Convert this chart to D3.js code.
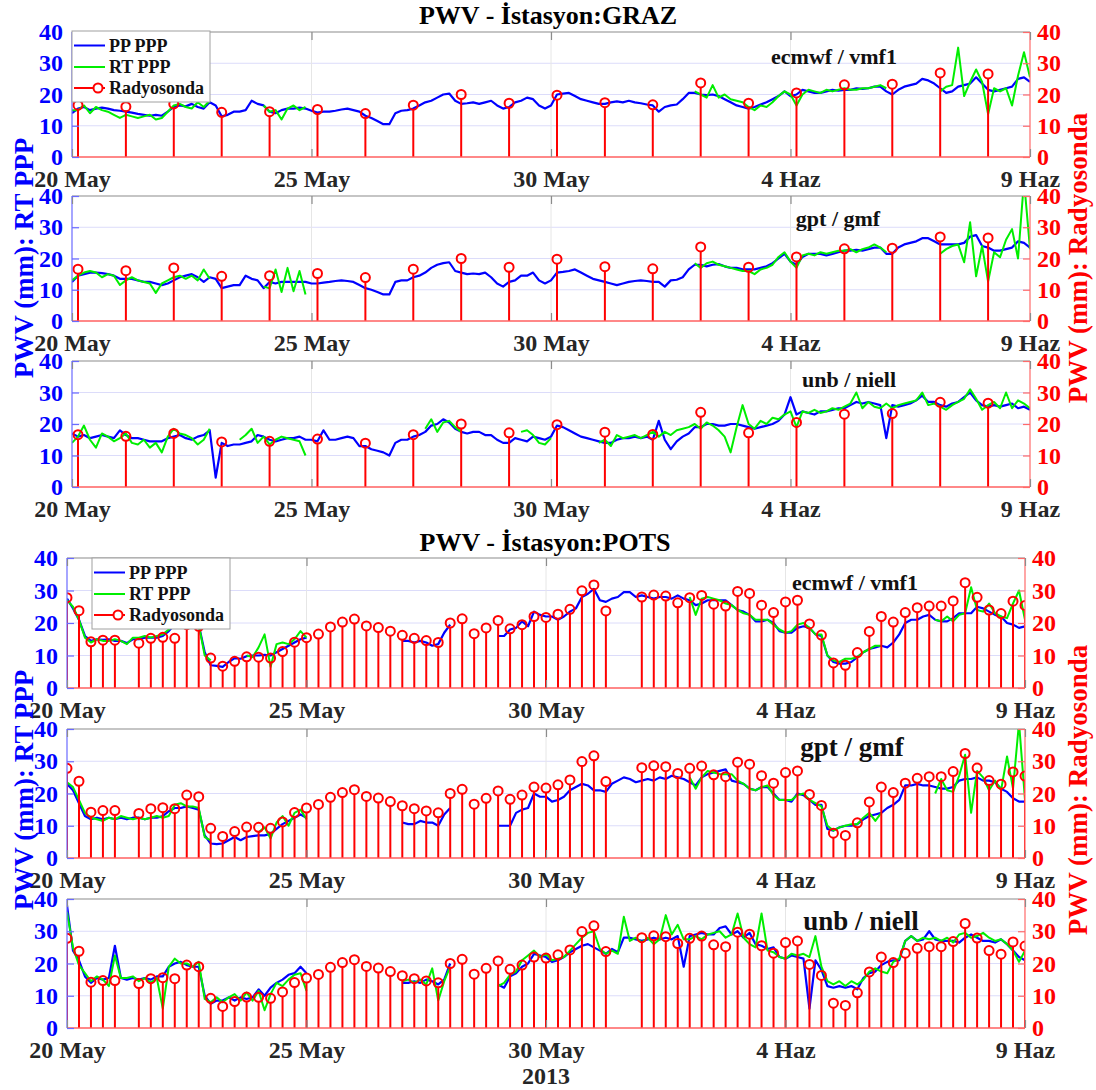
<!DOCTYPE html>
<html>
<head>
<meta charset="utf-8">
<script src="https://cdn.jsdelivr.net/npm/d3@7"></script>
<style>
  body { margin: 0; background: #fff; }
  svg { display: block; }
  svg text { font-family: "Liberation Serif", "Times New Roman", serif !important; font-weight: bold; }
</style>
</head>
<body>
<svg id="chart" width="1096" height="1090"></svg>
<script>
// ---- time axis ----
const seriesStart = Date.UTC(2013, 4, 20);   // first sample, 20 May 2013 00 UTC
const seriesEnd = Date.UTC(2013, 5, 9);      // 9 June 2013 00 UTC
const stepHours = 3;                         // GNSS PWV sampling step
const tickDates = [Date.UTC(2013, 4, 20), Date.UTC(2013, 4, 25), Date.UTC(2013, 4, 30), Date.UTC(2013, 5, 4), Date.UTC(2013, 5, 9)];
const tickLabels = ["20 May", "25 May", "30 May", "4 Haz", "9 Haz"];
const yTickValues = [0, 10, 20, 30, 40];
const legendLabels = ["PP PPP", "RT PPP", "Radyosonda"];
const yearLabel = "2013";
const _ = null;

// ---- GRAZ : radiosonde, one launch per day at 03 UTC ----
const grazSondeHour = 3;
const grazSonde = [16.6, 16.1, 17.0, 14.3, 14.5, 15.2, 13.9, 16.6, 20.0, 17.2,
                   19.8, 17.4, 16.7, 23.7, 17.2, 20.5, 23.1, 23.3, 26.9, 26.6];

// GRAZ ecmwf / vmf1
const grazVmfPP = [
  14, 15.5, 16, 15, 15.5, 15.8, 15.5, 15,
  14.8, 14.5, 14.2, 13.8, 13.5, 13.2, 13.5, 13.2,
  14.5, 16, 16.5, 16.2, 17, 16, 15.5, 17.5,
  16.5, 13, 13.5, 14.5, 14.5, 15, 18, 17,
  16.5, 14.5, 14, 15, 15.5, 15.5, 15.8, 15.5,
  14.8, 14.2, 14.5, 14.5, 14.8, 15.2, 15.5, 15,
  14.5, 13.2, 12.5, 11.5, 10.5, 10.5, 14, 14.8,
  15, 15.5, 16.5, 17.5, 18, 19, 20, 20.3,
  18, 17, 17.2, 17.5, 17, 17.5, 18, 16.5,
  15.5, 16, 17.5, 18, 19, 18.5, 16.5, 15.5,
  16.5, 20, 20.3, 20.5, 19.5, 18.5, 18, 17.5,
  17, 17, 17.5, 17.8, 17.5, 18, 17.5, 17.2,
  16.8, 16.5, 14.5, 16, 16.5, 16.8, 18.5, 20.5,
  20.5, 20, 19.8, 20, 19.5, 18.5, 17.5, 16.5,
  16, 15.5, 16, 16.8, 17.5, 18.5, 19.5, 21,
  19.5, 20, 21.5, 21, 20.5, 20.5, 21, 21.5,
  21.2, 21.5, 21.5, 22, 21.8, 22, 22.5, 22.5,
  21, 20, 21.5, 22.5, 23, 23.5, 25, 24.5,
  23.5, 22, 20.5, 21, 22.5, 23, 23.5, 25.5,
  23.5, 21.5, 21, 21.5, 22, 22.5, 25, 25.5,
  24];
const grazVmfRT = [
  15, 15, 16.5, 14, 16, 15, 14.5, 13.5,
  12.5, 13.5, 13, 12.5, 13, 13.5, 12, 12.5,
  14.5, 16.5, 17, 16, 15.5, 17.5, 16, 18,
  _, _, _, _, _, _, _, _,
  16.5, 14.5, 15, 12, 15.5, 16.5, 15, 16,
  _, _, _, _, _, _, _, _,
  _, _, _, _, _, _, _, _,
  _, _, _, _, _, _, _, _,
  _, _, _, _, _, _, _, _,
  _, _, _, _, _, _, _, _,
  _, _, _, _, _, _, _, _,
  _, _, _, _, _, _, _, _,
  _, _, _, _, _, _, _, _,
  21, 20, 19, 23, 19, 20, 18.5, 18,
  17.5, 16, 15, 16.5, 16, 17.5, 19.5, 21,
  20, 16.5, 20, 21.5, 21, 20.5, 21.5, 21,
  21.5, 22, 21.5, 21.5, 22, 22, 22.5, 23,
  22, _, _, _, _, _, _, _,
  _, 21, 22.5, 23, 35, 19.5, 24, 28,
  24, 13.7, 22, 21, 22, 16.5, 26, 33.5,
  25.5];

// GRAZ gpt / gmf
const grazGmfPP = [
  12.5, 14.5, 15, 15.5, 15.5, 15.3, 15, 14.5,
  13.5, 13.5, 13.5, 13, 12.5, 12.5, 12, 11.5,
  12, 13, 14, 14.5, 15, 14, 12.5, 14,
  13.5, 10.5, 11, 11.5, 11.5, 14.5, 13.5, 13,
  10.5, 12.5, 12, 12.5, 12.5, 12.5, 12.5, 12.5,
  12, 12, 12.3, 12.5, 12.8, 13, 12.8, 12.5,
  11.5, 10.5, 10, 9.3, 8.5, 8.5, 12.5, 13,
  13, 14, 14.5, 15.5, 17, 18, 18.5, 18.8,
  16, 15.5, 15, 15.2, 15, 15.5, 14, 12,
  11, 12.5, 13, 14.5, 14.5, 15.5, 13, 12,
  13, 15.5, 15.7, 16, 16.5, 15.5, 14.5, 13.5,
  13, 12.5, 12, 11.5, 12, 12.5, 12.8, 13,
  12.8, 12.5, 12.5, 11, 13, 13.2, 14, 16.5,
  18, 18, 17.5, 18, 18.2, 17.5, 17, 17,
  16.5, 16.5, 16.5, 17, 17.5, 18.5, 20, 21.5,
  19, 18, 20.5, 21.5, 21.5, 21.5, 21, 21.5,
  22, 22.5, 22.5, 22.8, 22.5, 23, 23.5, 23.5,
  21.5, 21.5, 23.5, 24.5, 25, 25.5, 26.5, 26.5,
  25.5, 24.5, 24.5, 24.5, 24.5, 25, 27, 27.5,
  24, 23.5, 22.5, 22.5, 23, 23.5, 25.5, 25,
  23.5];
const grazGmfRT = [
  13, 14.5, 15.5, 16, 15.5, 14, 15, 14.5,
  11.5, 13, 14, 13, 12.5, 12, 9, 12,
  13, 14, 14.5, 13.5, 14.5, 13, 16.5, 13.5,
  _, _, _, _, _, _, _, _,
  11, 10.5, 16.5, 9.3, 17, 9.5, 16, 8.5,
  _, _, _, _, _, _, _, _,
  _, _, _, _, _, _, _, _,
  _, _, _, _, _, _, _, _,
  _, _, _, _, _, _, _, _,
  _, _, _, _, _, _, _, _,
  _, _, _, _, _, _, _, _,
  _, _, _, _, _, _, _, _,
  _, _, _, _, _, _, _, _,
  18.5, 17, 18.5, 19, 18, 17.5, 17, 16.5,
  16, 16, 15, 16.5, 17, 18, 20.5, 22,
  19, 17, 21, 21.5, 21, 22, 21.5, 22,
  22.5, 22.5, 23, 22, 23, 23.5, 24.5, 23.5,
  22, _, _, _, _, _, _, _,
  _, 21.5, 23, 24, 24.5, 18.8, 31.6, 14.3,
  24, 12.6, 22, 20.4, 26, 29.4, 20, 45,
  23];

// GRAZ unb / niell
const grazNiellPP = [
  17, 16, 16.5, 15.5, 16, 16.5, 16, 15.5,
  18, 16.5, 15.5, 15.5, 15, 14.5, 14.5, 14.5,
  15.5, 16, 16.5, 15.5, 15, 16, 16.5, 18,
  3, 14, 13, 13.5, 13.5, 14, 14.5, 16.5,
  16, 15, 14.5, 15, 15.5, 15.5, 16, 15,
  15, 14.5, 18, 15, 15, 15.5, 16, 15.5,
  13, 13, 12, 11.5, 11, 10, 14, 15,
  15, 16, 16.5, 17.5, 19.5, 20, 21.5, 20.5,
  18.5, 17.5, 17, 17.5, 17.5, 16.5, 16.5, 15,
  14, 14, 15.5, 15, 14.5, 16, 15.5, 15,
  16, 19.5, 19, 18, 17, 16, 15.5, 15,
  14.5, 14, 14, 15, 15.5, 15.5, 16, 15.5,
  16, 15, 21, 15, 12, 14.5, 16, 17,
  19, 19, 20, 20, 19.5, 19.5, 20, 20,
  19.5, 19, 18.5, 19, 19.5, 20, 21, 23,
  28.5, 23, 24, 23.5, 23, 24, 24, 24.5,
  25, 25, 26, 27, 26.5, 27, 26.5, 26,
  15.5, 26, 25.5, 26, 26.5, 27.5, 29, 27,
  27, 26, 25.5, 26.5, 27, 28.5, 30, 27.5,
  26, 25.5, 26, 25.5, 26, 26.5, 25, 25.5,
  24.5];
const grazNiellRT = [
  14, 16, 19.5, 15, 12.5, 17, 16, 14.5,
  15.5, 17, 14, 13.5, 15, 12.5, 14, 11,
  16, 18.5, 17, 16.5, 15.5, 13.5, 15, 18.5,
  _, _, _, _, 15, 16.5, 18.5, 14,
  16, 13.5, 15, 16, 15.5, 15, 14.5, 10,
  _, _, _, _, _, _, _, _,
  _, _, _, _, _, _, _, _,
  _, _, _, 18.5, 21.5, 17.5, 20.5, 21,
  19, 17.5, _, _, _, _, _, _,
  _, _, _, 17.5, 18, 16.5, 14, 13.5,
  15.5, _, _, _, _, _, _, _,
  14, 15, 13, 16.5, 15.5, 16, 16.5, 15.5,
  16.5, 17.5, 16, 17.5, 16.5, 18, 18.5, 19,
  20, 18.5, 20.5, 19.5, 18, 16, 11, 19,
  26, 20, 18.5, 21, 20, 22, 21.5, 23,
  24, 19, 24, 23.5, 24.5, 23.5, 24, 25,
  24.5, 25.5, 26.5, 30, 25, 27, 25.5, 25,
  26.5, 25, 26, 26.5, 27, 27.5, 30, 26,
  26.5, 25.5, 24.5, 26, 27, 28, 31, 28,
  24.5, 26, 27, 25, 30, 25, 27.5, 26.5,
  25];

// ---- POTS : radiosonde every 6 hours from 20 May 00 UTC ----
const potsSondeStepHours = 6;
const potsSonde = [
  27.8, 23.8, 14.2, 14.7, 14.7, _, 13.8, 15.3, 15.6, 15.3,
  19.5, 19.0, 9.2, 6.7, 8.2, 9.6, 9.5, 9.2, 11.2, 14.1,
  15.5, 16.6, 18.8, 20.3, 21.2, 19.1, 18.6, 17.5, 16.2, 15.3,
  14.6, 14.0, 20.0, 21.3, 16.7, 18.5, 20.8, 18.2, 19.5, 22.0,
  21.7, 22.7, 24.2, 29.9, 31.7, 23.7, _, _, 28.0, 28.6,
  28.3, 26.2, 27.8, 28.5, 25.8, 25.2, 29.7, 29.1, 25.5, 23.2,
  26.5, 27.0, 19.7, 16.3, 7.7, 7.0, 10.9, 17.4, 22.0, 20.3,
  23.2, 24.7, 25.2, 25.2, 26.8, 32.4, 27.9, 24.0, 22.9, 26.7,
  25.4];

// POTS ecmwf / vmf1
const potsVmfPP = [
  27.5, 24.5, 21, 16, 14.5, 15, 14.8, 15,
  14.5, 14.5, 13.8, 15, 15, 15.5, 15.5, 15.5,
  16, 17.5, 19.5, 20, 20.5, 20, 19.5, 11,
  7, 6.8, 6.5, 8, 9.2, 9, 9.8, 10,
  10, 10.2, 10, 11, 12, 13, 14, 15,
  15.5, _, _, _, _, _, _, _,
  _, _, _, _, _, _, _, _,
  14.5, 14.5, 14, 14.5, 14, 13, 13.5, 17,
  19.5, _, _, _, _, _, _, _,
  16, 16, 18, 18.5, 20.5, 19, 23.5, 22.5,
  22, 22, 21, 22, 23.5, 24.5, 28, 29,
  30.5, 27, 26.5, 27.5, 28, 29.5, 29.5, 28,
  28.5, 28, 27.5, 28, 28, 27.5, 28.5, 27.5,
  27, 25.5, 26, 27, 27, 27, 27, 25.5,
  24, 23.5, 22.5, 20.5, 20.5, 21, 20, 17.5,
  17, 17, 18.5, 19, 18.5, 16.5, 16, 10,
  8, 7.5, 7.5, 8, 9.5, 11, 12, 12.5,
  13, 12.5, 14, 16.5, 20, 21, 21, 22,
  22.5, 21, 20.5, 20.5, 21.5, 23, 23, 23,
  25, 24.5, 23.5, 22.5, 22, 20, 19.5, 18.5,
  19];
const potsVmfRT = [
  27, 25, 21, 15.5, 14, 15, 14.5, 14.5,
  15, 14.5, 13.5, 15.5, 15.5, 16, 15.5, 16,
  16.5, 18, 20, 20.5, 20, 19.5, 19.5, 10,
  8.5, _, _, _, _, _, 10, 9.5,
  12.5, 16.5, 6.5, 13.5, 14, 13.5, 15, 17.5,
  15.5, _, _, _, _, _, _, _,
  _, _, _, _, _, _, _, _,
  _, _, _, _, _, _, _, _,
  _, _, _, _, _, _, _, _,
  _, _, _, _, _, _, _, _,
  _, _, _, _, _, _, _, _,
  _, _, _, _, _, _, _, _,
  _, _, _, _, _, _, _, _,
  28, 22.5, 27.5, 28, 27.5, 27, 26, 25.5,
  24, 23, 22.5, 21, 21, 21, 19.5, 18,
  17, 17.5, 19.5, 20, 18.5, 16.5, 16.5, 10,
  8.5, 8, 9, 9, 9.5, 11, 12, 13,
  13, _, _, _, _, _, _, _,
  _, 21, 20.5, 22, 20.5, 22.5, 23, 31,
  24, 23.5, 26, 23, 22, 21.5, 26, 30,
  21];

// POTS gpt / gmf
const potsGmfPP = [
  23, 21, 17, 13, 12, 12.5, 12, 12.5,
  12, 12.5, 12, 12.5, 12.5, 12, 12.5, 12.5,
  13, 14.5, 15.5, 15.5, 16, 15.5, 15, 7,
  4.5, 4.3, 4.5, 5.5, 6.5, 5.5, 6.5, 6.8,
  7, 7, 7.5, 9, 10.5, 11.5, 12.5, 13.5,
  12.5, _, _, _, _, _, _, _,
  _, _, _, _, _, _, _, _,
  11, 10.5, 10.5, 11.5, 11, 11, 10, 13.5,
  15.5, _, _, _, _, _, _, _,
  10, 10, 10, 14, 15, 15.5, 20, 19,
  19, 17.5, 18, 19, 21, 22, 23, 22.5,
  21, 21, 20.5, 23, 24, 25, 24.5, 23.5,
  24, 24.5, 24, 25, 24.5, 25.5, 25, 24.5,
  23.5, 22.5, 25, 26, 26.5, 27, 27.5, 24,
  23.5, 23, 21.5, 21, 22, 22, 20, 18,
  18, 17.5, 20, 19.5, 18, 16.5, 16.5, 9,
  8.5, 9.5, 10, 10, 10.5, 12, 13, 13.5,
  14, 15.5, 16.5, 18, 22.5, 22.5, 23, 22.5,
  22.5, 22, 21.5, 21.5, 22, 24, 24.5, 24.5,
  25, 24, 24, 23.5, 21.5, 20.5, 18.5, 17.5,
  17.5];
const potsGmfRT = [
  23.5, 22, 18, 14, 12.5, 12, 11.5, 12.5,
  12, 13, 12.5, 12, 12.5, 12, 12.5, 13,
  12.5, 13, 16.5, 17, 16, 16, 15.5, 6.5,
  5.5, _, _, _, _, _, _, _,
  8, 9.5, 6, 11, 13, 10, 14, 15,
  12, _, _, _, _, _, _, _,
  _, _, _, _, _, _, _, _,
  _, _, _, _, _, _, _, _,
  _, _, _, _, _, _, _, _,
  _, _, _, _, _, _, _, _,
  _, _, _, _, _, _, _, _,
  _, _, _, _, _, _, _, _,
  _, _, _, _, _, _, _, _,
  25, 21.5, 25, 27, 26.5, 26, 26, 26,
  24, 23, 21.5, 21, 22, 22.5, 19.5, 18,
  18, 18, 19.5, 20, 18, 17, 16, 10,
  8.5, 9.5, 10, 10.5, 10.5, 12.5, 14, 11.5,
  14, _, _, _, _, _, _, _,
  _, 20, 24.5, 21, 20.5, 25.5, 32, 14,
  27, 25, 21, 24, 21, 31.5, 21.5, 42,
  18];

// POTS unb / niell
const potsNiellPP = [
  38, 24, 21, 16, 14, 15.5, 15, 15.5,
  25.5, 15.5, 15, 15.5, 15, 15.5, 15, 16,
  16, 19, 20, 20.5, 19.5, 19, 19, 10,
  7.5, 8.5, 8.5, 9.5, 8.5, 9.5, 9, 9.5,
  12, 10, 12.5, 14, 15, 16.5, 17, 19,
  17, _, _, _, _, _, _, _,
  _, _, _, _, _, _, _, _,
  14, 14, 14.5, 14, 15, 14.5, 13.5, 15,
  20, _, _, _, _, _, _, _,
  13.5, 12.5, 16, 17, 19, 20, 23, 22.5,
  22, 20.5, 21, 22, 23.5, 24.5, 25.5, 26,
  25, 24, 23, 24.5, 23.5, 28, 28, 27.5,
  27, 27.5, 28, 27.5, 28, 27.5, 28.5, 19,
  28.5, 29, 29.5, 29, 29, 31, 31.5, 29,
  30, 28, 29.5, 26, 25.5, 24.5, 25, 22,
  21.5, 22.5, 22, 21.5, 6, 21, 18, 13,
  12.5, 13, 12.5, 13, 12, 15.5, 17, 17.5,
  19.5, 20.5, 21, 21, 27, 28.5, 27, 27.5,
  30, 27.5, 27, 27, 27, 26.5, 28, 29,
  28, 27, 27, 26.5, 27.5, 26, 24, 22,
  21];
const potsNiellRT = [
  36, 25, 19.5, 17, 14.5, 16, 15, 13,
  22.5, 15.5, 15.5, 16, 14.5, 15.5, 14, 15.5,
  6, 19, 21.5, 20, 20, 19, 20.5, 9,
  8, 9.5, 8, 9.5, 10.5, 8.5, 11, 8.5,
  11.5, 5.5, 10.5, 14, 13, 15, 16.5, 17,
  11.5, _, _, _, _, _, _, _,
  _, _, _, _, _, _, _, _,
  14.5, 15, 14, 15, 13.5, 18.5, 8.5, 14.5,
  19, _, _, _, _, _, _, _,
  13, 14, 16.5, 17.5, 21, 22.5, 24, 22,
  23, 21, 21.5, 22, 24, 26, 28, 29.5,
  30, 24.5, 23, 24, 23, 34.5, 27, 28,
  26.5, 28, 26, 27.5, 35, 29, 32, 27.5,
  27.5, 28.5, 27.5, 29, 29.5, 30, 28, 29,
  35.5, 28, 26, 25, 35.5, 24, 23.5, 22,
  21.5, 23, 22.5, 23, 22, 28.5, 19, 14.5,
  13.5, 14.5, 13, 14.5, 13.5, 15, 17.5, 18.5,
  17.5, 17, 20.5, 21.5, 27, 28.5, 27, 28,
  27.5, 28, 27, 28, 26.5, 29, 29.5, 28,
  28.5, 29.5, 28, 27, 27.5, 26, 24, 20.5,
  24];

// ---- figure layout ----
const HOUR = 3600e3;
const SERIF = '"Liberation Serif", "Times New Roman", serif';
const MARKER_R = 4.5;
const grazSondeTimes = grazSonde.map((v, i) => seriesStart + (i * 24 + grazSondeHour) * HOUR);
const potsSondeTimes = potsSonde.map((v, i) => seriesStart + i * potsSondeStepHours * HOUR);

const stations = [
  {
    title: "PWV - İstasyon:GRAZ", titleX: 548, titleY: 24,
    left: 72, right: 1030, labelY: 258,
    legend: { x: 72, y: 31 },
    sondeTimes: grazSondeTimes, sonde: grazSonde,
    panels: [
      { top: 32, bottom: 157, pp: grazVmfPP, rt: grazVmfRT, note: "ecmwf / vmf1", noteX: 834, noteY: 64, noteSize: 22 },
      { top: 196, bottom: 321, pp: grazGmfPP, rt: grazGmfRT, note: "gpt / gmf", noteX: 838, noteY: 226, noteSize: 22 },
      { top: 361, bottom: 487, pp: grazNiellPP, rt: grazNiellRT, note: "unb / niell", noteX: 849, noteY: 387, noteSize: 22 }
    ]
  },
  {
    title: "PWV - İstasyon:POTS", titleX: 545, titleY: 551,
    left: 67, right: 1025, labelY: 790,
    legend: { x: 92, y: 558 },
    sondeTimes: potsSondeTimes, sonde: potsSonde,
    panels: [
      { top: 558, bottom: 688, pp: potsVmfPP, rt: potsVmfRT, note: "ecmwf / vmf1", noteX: 855, noteY: 590, noteSize: 22 },
      { top: 729, bottom: 858, pp: potsGmfPP, rt: potsGmfRT, note: "gpt / gmf", noteX: 852, noteY: 756, noteSize: 27 },
      { top: 899, bottom: 1028, pp: potsNiellPP, rt: potsNiellRT, note: "unb / niell", noteX: 861, noteY: 930, noteSize: 27 }
    ]
  }
];

const BLUE = "#0000ff", GREEN = "#00ee00", RED = "#ff0000";
const svg = d3.select("#chart");
let clipId = 0;

function styleText(sel, size, color) {
  sel.style("font-family", SERIF).style("font-weight", "bold")
    .style("font-size", size + "px").attr("fill", color);
}

function drawPanel(st, p, withLegend) {
  const x = d3.scaleUtc().domain([new Date(seriesStart), new Date(seriesEnd)]).range([st.left, st.right]);
  const y = d3.scaleLinear().domain([0, 40]).range([p.bottom, p.top]);
  const g = svg.append("g");

  // grid
  g.append("g").selectAll("line").data(yTickValues.slice(1, -1)).join("line")
    .attr("x1", st.left).attr("x2", st.right)
    .attr("y1", d => y(d)).attr("y2", d => y(d))
    .attr("stroke", "#dcdcfa").attr("stroke-width", 1);
  g.append("g").selectAll("line").data(tickDates.slice(1, -1)).join("line")
    .attr("x1", d => x(d)).attr("x2", d => x(d))
    .attr("y1", p.top).attr("y2", p.bottom)
    .attr("stroke", "#e6e6e6").attr("stroke-width", 1);

  // clipped data layer
  const id = "clip" + (clipId++);
  svg.append("clipPath").attr("id", id).append("rect")
    .attr("x", st.left).attr("y", p.top)
    .attr("width", st.right - st.left).attr("height", p.bottom - p.top);
  const data = g.append("g").attr("clip-path", `url(#${id})`);

  const line = d3.line()
    .defined(d => d[1] != null)
    .x(d => x(seriesStart + d[0] * stepHours * HOUR))
    .y(d => y(d[1]));
  data.append("path").datum(p.pp.map((v, i) => [i, v]))
    .attr("d", line).attr("fill", "none")
    .attr("stroke", BLUE).attr("stroke-width", 2.2).attr("stroke-linejoin", "round");
  data.append("path").datum(p.rt.map((v, i) => [i, v]))
    .attr("d", line).attr("fill", "none")
    .attr("stroke", GREEN).attr("stroke-width", 2).attr("stroke-linejoin", "round");

  // radiosonde stems: stem from the baseline up to the ring marker
  const sondePts = st.sonde.map((v, i) => ({ t: st.sondeTimes[i], v })).filter(d => d.v != null);
  data.append("g").selectAll("line").data(sondePts).join("line")
    .attr("x1", d => x(d.t)).attr("x2", d => x(d.t))
    .attr("y1", y(0)).attr("y2", d => y(d.v) + MARKER_R)
    .attr("stroke", RED).attr("stroke-width", 2);
  data.append("g").selectAll("circle").data(sondePts).join("circle")
    .attr("cx", d => x(d.t)).attr("cy", d => y(d.v)).attr("r", MARKER_R)
    .attr("fill", "none").attr("stroke", RED).attr("stroke-width", 2);

  // frame
  g.append("line").attr("x1", st.left).attr("x2", st.right).attr("y1", p.top).attr("y2", p.top)
    .attr("stroke", "#8c8c8c").attr("stroke-width", 1.2);
  g.append("line").attr("x1", st.left).attr("x2", st.right).attr("y1", p.bottom).attr("y2", p.bottom)
    .attr("stroke", "#ff6060").attr("stroke-width", 1.5);
  g.append("line").attr("x1", st.left).attr("x2", st.left).attr("y1", p.top).attr("y2", p.bottom)
    .attr("stroke", "#6a6aff").attr("stroke-width", 1.2);
  g.append("line").attr("x1", st.right).attr("x2", st.right).attr("y1", p.top).attr("y2", p.bottom)
    .attr("stroke", "#ff6a6a").attr("stroke-width", 1.2);

  // x axes (bottom with labels, top with ticks only)
  const xb = g.append("g").attr("transform", `translate(0,${p.bottom})`)
    .call(d3.axisBottom(x).tickValues(tickDates.map(d => new Date(d)))
      .tickFormat((d, i) => tickLabels[i]).tickSizeInner(-8).tickSizeOuter(0).tickPadding(13));
  const xt = g.append("g").attr("transform", `translate(0,${p.top})`)
    .call(d3.axisTop(x).tickValues(tickDates.map(d => new Date(d)))
      .tickFormat("").tickSizeInner(-8).tickSizeOuter(0));
  [xb, xt].forEach(a => {
    a.attr("font-family", null).attr("font-size", null);
    a.select(".domain").remove();
    a.selectAll(".tick line").attr("stroke", "#8c8c8c").attr("stroke-width", 1.2);
  });
  styleText(xb.selectAll(".tick text"), 24, "#262626");

  // y axes
  const yl = g.append("g").attr("transform", `translate(${st.left},0)`)
    .call(d3.axisLeft(y).tickValues(yTickValues).tickSizeInner(-7).tickSizeOuter(0).tickPadding(9));
  const yr = g.append("g").attr("transform", `translate(${st.right},0)`)
    .call(d3.axisRight(y).tickValues(yTickValues).tickSizeInner(-7).tickSizeOuter(0).tickPadding(7));
  [[yl, BLUE, "#6a6aff"], [yr, RED, "#ff6a6a"]].forEach(([a, c, lc]) => {
    a.attr("font-family", null).attr("font-size", null);
    a.select(".domain").remove();
    a.selectAll(".tick line").attr("stroke", lc).attr("stroke-width", 1.2);
    styleText(a.selectAll(".tick text"), 24, c);
  });

  // model annotation
  styleText(g.append("text").attr("x", p.noteX).attr("y", p.noteY).attr("text-anchor", "middle")
    .text(p.note), p.noteSize, "#111");

  if (withLegend) drawLegend(st.legend);
}

function drawLegend(pos) {
  const lg = svg.append("g").attr("transform", `translate(${pos.x},${pos.y})`);
  lg.append("rect").attr("width", 138).attr("height", 71)
    .attr("fill", "#fff").attr("stroke", "#a0a0a0").attr("stroke-width", 1);
  const rows = [14.5, 36, 57];
  const colors = [BLUE, GREEN, RED];
  legendLabels.forEach((lab, i) => {
    lg.append("line").attr("x1", 2).attr("x2", 33).attr("y1", rows[i]).attr("y2", rows[i])
      .attr("stroke", colors[i]).attr("stroke-width", 2);
    if (i === 2) {
      lg.append("circle").attr("cx", 26).attr("cy", rows[i]).attr("r", MARKER_R)
        .attr("fill", "#fff").attr("stroke", RED).attr("stroke-width", 2);
    }
    styleText(lg.append("text").attr("x", 37).attr("y", rows[i]).attr("dy", "0.35em").text(lab), 18, "#111");
  });
}

stations.forEach(st => {
  styleText(svg.append("text").attr("x", st.titleX).attr("y", st.titleY).attr("text-anchor", "middle")
    .text(st.title), 26, "#000");
  st.panels.forEach((p, i) => drawPanel(st, p, i === 0));

  styleText(svg.append("text").attr("transform", `translate(33,${st.labelY}) rotate(-90)`)
    .attr("text-anchor", "middle").text("PWV (mm): RT PPP"), 27, BLUE);
  styleText(svg.append("text").attr("transform", `translate(1087,${st.labelY}) rotate(-90)`)
    .attr("text-anchor", "middle").text("PWV (mm): Radyosonda"), 27, RED);
});

styleText(svg.append("text").attr("x", 546).attr("y", 1084).attr("text-anchor", "middle")
  .text(yearLabel), 24, "#262626");
</script>
</body>
</html>
